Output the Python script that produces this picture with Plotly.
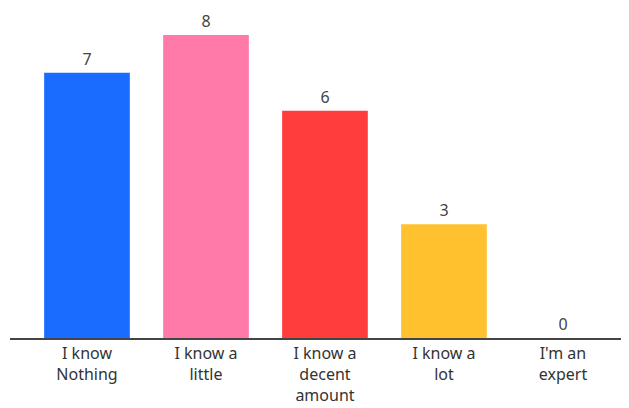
import plotly.graph_objects as go

categories = ["I know<br>Nothing", "I know a<br>little", "I know a<br>decent<br>amount", "I know a<br>lot", "I'm an<br>expert"]
values = [7, 8, 6, 3, 0]
colors = ["#1a6bff", "#ff7aa8", "#ff3d3d", "#ffc22e", "#cccccc"]

fig = go.Figure(go.Bar(
    x=list(range(len(categories))),
    y=values,
    marker=dict(color=colors, line=dict(width=0)),
    width=0.72,
    text=[str(v) for v in values],
    textposition="outside",
    textfont=dict(family="Noto Sans", size=16, color="#444444"),
    cliponaxis=False,
))

fig.update_layout(
    width=621, height=400,
    margin=dict(l=2, r=0, t=0, b=70),
    paper_bgcolor="white", plot_bgcolor="white",
    showlegend=False,
    font=dict(family="Noto Sans", color="#333333"),
    xaxis=dict(
        range=[-0.647, 4.555],
        tickmode="array",
        tickvals=list(range(len(categories))),
        ticktext=categories,
        tickfont=dict(family="Noto Sans", size=16, color="#333333"),
        showline=True, linecolor="#444444", linewidth=2,
        showgrid=False, zeroline=False, ticks="",
    ),
    yaxis=dict(
        range=[0, 8.71],
        visible=False,
        showgrid=False, zeroline=False,
    ),
)

fig.write_html("out.html")
